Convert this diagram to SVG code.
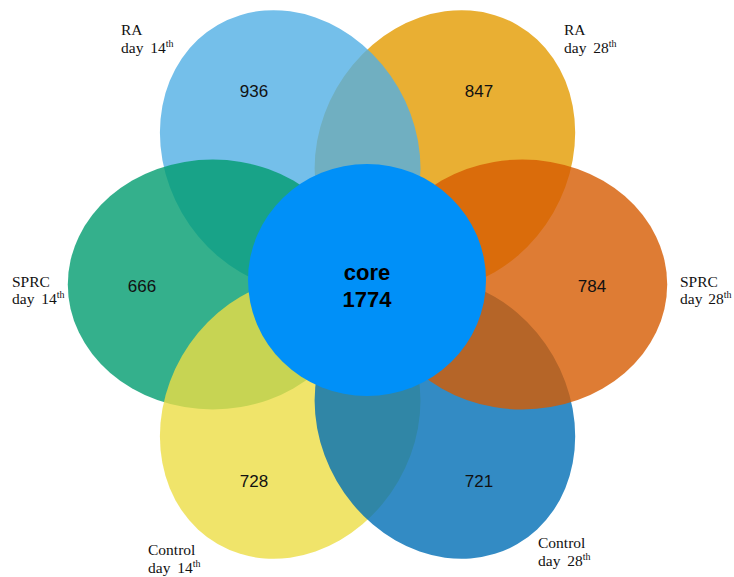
<svg xmlns="http://www.w3.org/2000/svg" width="734" height="577" viewBox="0 0 734 577">
<style>
.petal{fill-opacity:0.8;stroke:none}
.num{font-family:"Liberation Sans",Arial,sans-serif;font-size:17px;fill:#111;text-anchor:middle}
.core{font-family:"Liberation Sans",Arial,sans-serif;font-size:22px;font-weight:bold;fill:#000;text-anchor:middle}
.lbl{font-family:"Liberation Serif","Times New Roman",serif;font-size:15.5px;fill:#111}
.sup{font-size:10px}
</style>
<rect width="734" height="577" fill="#ffffff"/>
<g id="ra28">
<ellipse class="petal" cx="444.9" cy="150.5" rx="145" ry="125" transform="rotate(-60 444.9 150.5)" fill="rgb(227,155,0)"/>
<text class="num" x="479" y="97">847</text>
</g>
<g id="ra14">
<ellipse class="petal" cx="290.2" cy="150.5" rx="145" ry="125" transform="rotate(60 290.2 150.5)" fill="rgb(81,175,229)"/>
<text class="num" x="254" y="97">936</text>
</g>
<g id="sprc14">
<ellipse class="petal" cx="212.8" cy="284.5" rx="145" ry="125" fill="rgb(1,156,111)"/>
<text class="num" x="142" y="292">666</text>
</g>
<g id="ctrl14">
<ellipse class="petal" cx="290.2" cy="418.5" rx="145" ry="125" transform="rotate(-60 290.2 418.5)" fill="rgb(236,221,69)"/>
<text class="num" x="254" y="487">728</text>
</g>
<g id="ctrl28">
<ellipse class="petal" cx="444.9" cy="418.5" rx="145" ry="125" transform="rotate(60 444.9 418.5)" fill="rgb(0,110,181)"/>
<text class="num" x="479" y="487">721</text>
</g>
<g id="sprc28">
<ellipse class="petal" cx="522.2" cy="284.5" rx="145" ry="125" fill="rgb(214,91,1)"/>
<text class="num" x="592" y="292">784</text>
</g>
<g id="core">
<ellipse cx="367" cy="280" rx="119" ry="116" fill="#0090F8"/>
<text class="core" x="367" y="280">core</text>
<text class="core" x="367" y="307">1774</text>
</g>
<g id="labels">
<text class="lbl" x="121" y="35">RA</text>
<text class="lbl" x="121" y="53">day <tspan dx="3">14</tspan><tspan class="sup" dy="-6">th</tspan></text>
<text class="lbl" x="564" y="35">RA</text>
<text class="lbl" x="564" y="53">day <tspan dx="3">28</tspan><tspan class="sup" dy="-6">th</tspan></text>
<text class="lbl" x="12" y="287">SPRC</text>
<text class="lbl" x="12" y="304">day <tspan dx="3">14</tspan><tspan class="sup" dy="-6">th</tspan></text>
<text class="lbl" x="680" y="287">SPRC</text>
<text class="lbl" x="680" y="304">day <tspan dx="2">28</tspan><tspan class="sup" dy="-6">th</tspan></text>
<text class="lbl" x="148" y="555">Control</text>
<text class="lbl" x="148" y="573">day <tspan dx="3">14</tspan><tspan class="sup" dy="-6">th</tspan></text>
<text class="lbl" x="538" y="548">Control</text>
<text class="lbl" x="538" y="566">day <tspan dx="3">28</tspan><tspan class="sup" dy="-6">th</tspan></text>
</g>
<g id="connectors"/>
</svg>
